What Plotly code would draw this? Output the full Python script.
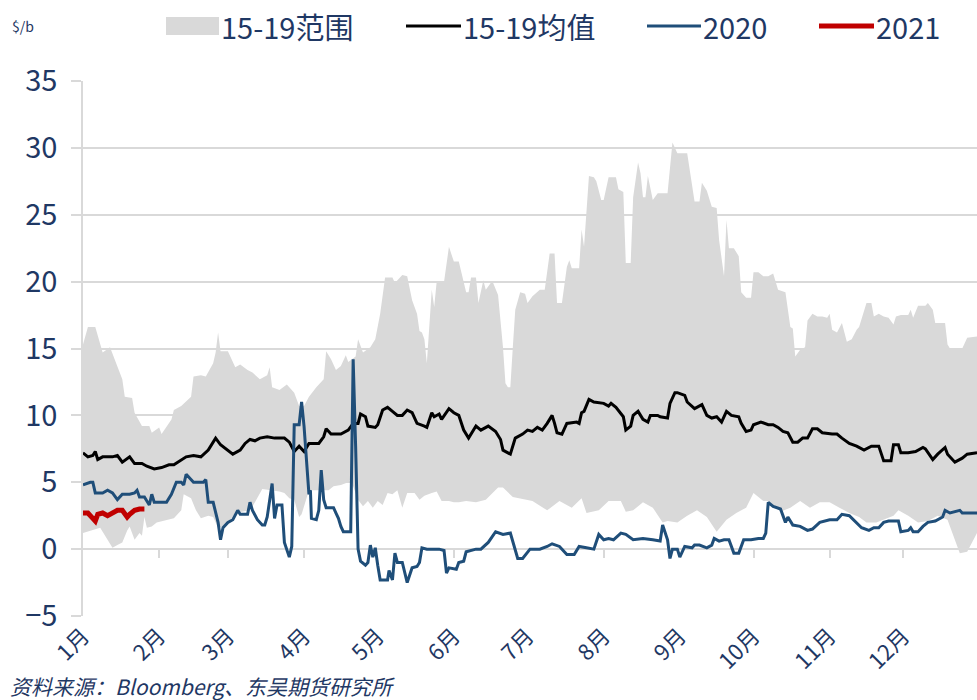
import plotly.graph_objects as go

# day-of-year positions and values ($/b)
month_days = [0, 31, 59, 90, 120, 151, 181, 212, 243, 273, 304, 334]
month_labels = ["1月", "2月", "3月", "4月", "5月", "6月", "7月", "8月", "9月", "10月", "11月", "12月"]
tick_mark_days = [31, 59, 90, 151, 212, 273, 304, 334]

series_names = ["15-19范围", "15-19均值", "2020", "2021"]

hi_day = [0, 2, 5, 7, 8, 11, 14, 16, 17, 20, 21, 24, 27, 28, 31, 32, 36, 37, 40, 44, 45, 48, 50, 53, 54, 55, 56, 59,
          62, 64, 67, 69, 72, 75, 76, 77, 80, 83, 86, 88, 90, 92, 95, 98, 99, 101, 103, 105, 107, 108, 111, 112, 114,
          117, 119, 121, 123, 126, 127, 130, 132, 134, 136, 137, 138, 139, 140, 141, 142, 143, 144, 147, 149, 151,
          153, 156, 157, 158, 160, 161, 163, 164, 166, 167, 169, 171, 172, 173, 174, 175, 176, 178, 180, 181, 183,
          186, 188, 190, 192, 193, 195, 197, 198, 199, 202, 203, 204, 206, 208, 209, 211, 212, 214, 217, 218, 220,
          221, 223, 224, 226, 227, 228, 229, 230, 232, 234, 238, 240, 242, 246, 249, 251, 252, 254, 256, 258, 259,
          261, 262, 263, 265, 267, 268, 270, 272, 273, 275, 277, 279, 281, 283, 286, 288, 289, 290, 292, 294, 295,
          297, 299, 301, 303, 304, 305, 307, 309, 311, 313, 315, 316, 319, 321, 322, 324, 326, 328, 330, 331, 333,
          336, 337, 338, 340, 343, 344, 346, 347, 351, 352, 353, 358, 360, 364]
hi_val = [15.3, 16.6, 16.6, 15.4, 14.7, 15.1, 13.7, 12.7, 11.4, 11.3, 10.2, 9.2, 9.2, 8.7, 9.1, 8.6, 9.7, 10.4, 10.7,
          11.4, 12.9, 13.0, 12.9, 13.9, 14.7, 16.2, 14.8, 14.8, 13.6, 13.8, 13.4, 13.2, 12.7, 13.0, 13.6, 12.1, 11.9,
          12.3, 11.7, 10.7, 10.7, 11.4, 12.1, 12.7, 14.8, 14.2, 13.4, 13.7, 14.5, 14.0, 14.4, 15.7, 14.7, 15.1, 15.7,
          17.6, 20.3, 20.3, 19.9, 20.5, 20.4, 18.6, 17.6, 16.3, 16.2, 15.7, 13.9, 16.6, 19.4, 18.1, 20.0, 20.0, 22.6,
          21.5, 21.5, 19.2, 19.2, 20.3, 20.3, 18.4, 20.1, 19.4, 19.9, 19.9, 19.0, 15.1, 12.4, 12.1, 12.1, 15.1, 17.9,
          19.2, 19.1, 18.4, 18.9, 19.4, 19.4, 22.1, 22.1, 18.4, 18.4, 21.1, 21.6, 21.0, 21.0, 23.9, 22.6, 27.9, 27.8,
          27.5, 26.1, 26.1, 27.8, 27.8, 26.9, 26.7, 21.4, 21.4, 26.3, 28.9, 28.1, 26.3, 26.3, 27.9, 26.1, 26.6, 26.6,
          30.4, 29.6, 29.6, 26.0, 26.0, 27.4, 26.8, 25.6, 25.5, 23.1, 20.4, 24.6, 22.5, 22.5, 21.9, 19.2, 18.8, 18.8,
          20.7, 20.7, 20.4, 20.4, 20.6, 19.4, 19.2, 16.6, 16.5, 14.4, 14.9, 15.1, 17.1, 17.6, 17.4, 17.4, 17.3, 17.6,
          16.4, 16.2, 16.9, 15.5, 15.7, 16.4, 16.6, 18.4, 18.4, 17.4, 17.6, 17.4, 17.3, 16.8, 17.4, 17.5, 17.5, 17.9,
          17.3, 18.2, 18.2, 18.4, 17.9, 16.9, 16.9, 15.3, 15.0, 15.0, 15.8, 15.9]

lo_day = [0, 4, 7, 10, 12, 14, 16, 18, 19, 21, 23, 24, 25, 26, 28, 30, 34, 37, 40, 41, 44, 46, 48, 51, 53, 55, 57, 60,
          62, 65, 68, 70, 73, 80, 82, 84, 86, 88, 89, 92, 96, 100, 102, 105, 108, 109, 112, 114, 116, 118, 120, 122,
          124, 126, 128, 130, 132, 135, 137, 139, 142, 144, 146, 149, 151, 153, 156, 160, 164, 169, 171, 175, 183,
          189, 194, 199, 203, 205, 210, 214, 219, 221, 224, 228, 232, 236, 238, 242, 246, 250, 254, 258, 262, 266,
          270, 273, 277, 279, 284, 288, 292, 296, 300, 304, 308, 312, 316, 319, 323, 327, 330, 332, 336, 340, 344,
          348, 352, 353, 355, 357, 360, 362, 364]
lo_val = [1.2, 1.4, 1.6, 0.7, 0.1, 0.3, 0.5, 1.4, 1.7, 0.7, 1.2, 1.0, 2.4, 1.6, 1.7, 2.0, 2.2, 2.3, 2.9, 4.1, 3.8, 2.9,
          2.3, 2.5, 2.4, 1.6, 1.7, 2.2, 2.7, 2.8, 2.9, 3.5, 4.5, 4.3, 4.2, 3.8, 3.7, 2.4, 2.6, 4.4, 4.4, 4.4, 4.7, 4.8,
          5.0, 5.2, 3.7, 3.2, 3.6, 3.1, 3.6, 3.3, 4.2, 4.1, 4.4, 3.1, 4.2, 4.2, 3.7, 4.0, 4.2, 4.3, 3.6, 3.6, 3.5, 3.5,
          3.6, 3.5, 3.7, 4.6, 4.6, 3.9, 3.6, 2.9, 3.6, 3.1, 3.8, 2.7, 2.9, 3.6, 3.6, 2.8, 2.9, 3.5, 3.1, 2.0, 2.1, 2.0,
          2.5, 2.9, 2.4, 1.3, 2.2, 2.7, 3.1, 4.2, 3.6, 3.6, 2.8, 3.1, 3.6, 3.1, 3.5, 3.5, 3.1, 2.7, 2.4, 2.0, 2.0, 2.3,
          2.5, 2.9, 2.5, 2.0, 2.1, 2.5, 2.2, 1.7, 0.7, -0.3, -0.2, 0.5, 1.2]

avg_day = [0, 2, 4, 5, 6, 8, 12, 14, 16, 19, 21, 24, 26, 29, 32, 35, 37, 40, 42, 45, 48, 51, 53, 54, 56, 59, 61, 64,
           66, 68, 70, 72, 75, 78, 82, 84, 86, 88, 90, 92, 96, 98, 99, 101, 105, 108, 110, 112, 113, 115, 116, 119,
           120, 122, 124, 126, 128, 130, 132, 134, 136, 139, 140, 142, 143, 145, 146, 149, 151, 153, 155, 157, 159,
           160, 162, 165, 168, 170, 171, 174, 176, 179, 181, 183, 185, 187, 189, 191, 192, 193, 195, 197, 201, 202,
           203, 204, 206, 208, 212, 214, 215, 217, 220, 221, 223, 224, 226, 228, 230, 231, 234, 235, 238, 239, 241,
           242, 245, 246, 249, 251, 252, 254, 256, 258, 260, 262, 264, 267, 268, 270, 272, 273, 276, 279, 281, 283,
           285, 287, 289, 291, 293, 295, 297, 299, 301, 305, 307, 309, 312, 315, 318, 321, 324, 326, 329, 330, 332,
           333, 336, 339, 342, 343, 346, 348, 351, 352, 355, 358, 360, 364]
avg_val = [7.2, 6.9, 7.0, 7.3, 6.7, 6.9, 6.9, 7.0, 6.5, 6.9, 6.4, 6.4, 6.2, 6.0, 6.1, 6.3, 6.3, 6.7, 6.9, 7.0, 6.9,
           7.4, 8.0, 8.3, 7.8, 7.4, 7.1, 7.4, 7.9, 8.2, 8.1, 8.3, 8.4, 8.3, 8.3, 8.0, 7.3, 7.7, 7.3, 7.9, 7.9, 8.4,
           9.0, 8.6, 8.6, 8.9, 9.4, 9.4, 10.1, 9.9, 9.2, 9.1, 9.3, 10.4, 10.6, 10.3, 10.0, 10.0, 10.4, 10.2, 9.4, 9.2,
           9.1, 10.2, 9.9, 10.1, 9.7, 10.5, 10.2, 10.0, 8.9, 8.3, 8.9, 9.2, 8.9, 9.2, 8.8, 8.2, 7.4, 7.1, 8.3, 8.6,
           8.9, 8.8, 9.1, 8.9, 9.4, 10.0, 9.4, 8.7, 8.6, 9.4, 9.5, 9.4, 10.2, 10.3, 11.2, 11.0, 10.9, 10.7, 10.9,
           10.6, 9.9, 8.9, 9.2, 10.0, 10.3, 9.7, 9.5, 10.0, 10.0, 9.9, 9.8, 10.9, 11.7, 11.7, 11.5, 11.0, 10.5, 10.7,
           10.8, 10.0, 9.8, 9.9, 9.5, 10.3, 10.0, 9.9, 9.4, 8.8, 8.9, 9.3, 9.5, 9.3, 9.3, 9.1, 8.8, 8.7, 8.0, 8.0,
           8.3, 8.3, 9.0, 9.0, 8.7, 8.6, 8.6, 8.3, 7.9, 7.7, 7.4, 7.7, 7.7, 6.6, 6.6, 7.8, 7.8, 7.2, 7.2, 7.3, 7.6,
           7.5, 6.7, 7.1, 7.6, 7.1, 6.5, 6.8, 7.1, 7.2]

y2020_day = [0, 3, 4, 5, 8, 10, 12, 14, 16, 19, 21, 22, 23, 25, 27, 28, 29, 34, 36, 38, 40, 41, 42, 45, 49, 50, 51, 53,
             55, 56, 57, 59, 61, 63, 64, 67, 68, 69, 71, 73, 74, 75, 77, 78, 79, 81, 82, 84, 85, 86, 88, 89, 90, 91,
             92, 92.6, 93, 95, 96, 97, 98, 99, 102, 103, 104, 105, 106, 109, 110, 111, 112, 113, 115, 116, 117, 118,
             119, 120, 121, 124, 124.6, 126, 127, 128, 130, 132, 134, 136, 137, 138, 140, 145, 147, 148, 149, 152,
             153, 155, 156, 160, 162, 165, 168, 171, 174, 177, 179, 182, 186, 189, 191, 194, 197, 200, 202, 205, 208,
             210, 212, 214, 216, 219, 221, 224, 228, 232, 235, 236, 238, 239, 240, 242, 243, 245, 248, 249, 251, 254,
             256, 257, 259, 261, 263, 265, 267, 269, 272, 275, 277, 278, 279, 281, 284, 286, 287, 289, 292, 295, 297,
             300, 304, 307, 309, 312, 315, 317, 320, 322, 324, 326, 328, 332, 333, 336, 337, 338, 340, 342, 344, 347,
             350, 351, 353, 357, 358, 364]
y2020_val = [4.8, 5.0, 5.0, 4.2, 4.2, 4.4, 4.2, 3.7, 4.1, 4.1, 4.2, 4.4, 3.9, 3.9, 3.3, 4.1, 3.5, 3.5, 4.1, 5.0, 5.0,
             4.8, 5.6, 5.0, 5.0, 5.2, 3.5, 3.5, 2.0, 0.7, 1.6, 2.0, 2.2, 2.9, 2.6, 2.6, 3.5, 2.9, 2.2, 1.8, 1.8, 2.4,
             4.9, 2.3, 3.3, 3.3, 0.5, -0.6, 0.2, 9.3, 9.3, 11.0, 9.2, 6.4, 4.1, 4.4, 2.3, 2.2, 2.9, 5.9, 3.7, 3.1,
             3.1, 2.7, 2.3, 1.7, 1.3, 1.3, 14.2, 7.7, 0.0, -0.9, -1.2, -1.0, 0.3, -0.6, 0.1, -1.2, -2.3, -2.3, -1.6,
             -2.3, -0.3, -1.0, -1.0, -2.5, -1.4, -1.3, -1.0, 0.1, 0.0, 0.0, -0.1, -1.8, -1.4, -1.5, -1.0, -0.9, -0.2,
             0.0, 0.0, 0.5, 1.3, 1.1, 1.2, -0.7, -0.7, 0.0, 0.0, 0.2, 0.4, 0.2, -0.4, -0.4, 0.2, 0.1, 0.0, 1.1, 0.7,
             0.8, 0.7, 1.2, 1.1, 0.7, 0.8, 0.7, 0.6, 1.8, 0.7, -0.7, 0.0, 0.0, -0.6, 0.2, 0.1, 0.3, 0.3, 0.1, 0.3,
             0.8, 0.6, 0.7, 0.7, -0.3, -0.3, 0.7, 0.7, 0.8, 0.8, 1.2, 3.5, 3.2, 3.0, 2.0, 2.4, 1.8, 1.7, 1.4, 1.5,
             2.0, 2.2, 2.2, 2.6, 2.5, 2.0, 1.6, 1.4, 1.6, 1.6, 2.0, 2.1, 2.1, 1.3, 1.4, 1.6, 1.3, 1.3, 1.7, 2.0, 2.1,
             2.4, 2.9, 2.7, 2.9, 2.7, 2.7]

y2021_day = [0, 2, 4, 5, 6, 8, 10, 12, 14, 16, 18, 19, 21, 23, 25]
y2021_val = [2.7, 2.7, 2.3, 2.1, 2.6, 2.7, 2.5, 2.7, 2.9, 2.9, 2.4, 2.6, 2.9, 3.0, 3.0]

navy = "#1f3864"
grid = "#d9d9d9"
band_color = "#d9d9d9"
colors = [band_color, "#000000", "#1f4e79", "#c00000"]
cjk = "Noto Sans CJK SC"

fig = go.Figure()
fig.add_trace(go.Scatter(x=lo_day, y=lo_val, mode="lines", line=dict(width=0), showlegend=False,
                         hoverinfo="skip"))
fig.add_trace(go.Scatter(x=hi_day, y=hi_val, mode="lines", line=dict(width=0), fill="tonexty",
                         fillcolor=band_color, name=series_names[0], showlegend=False))
fig.add_trace(go.Scatter(x=avg_day, y=avg_val, mode="lines", line=dict(color=colors[1], width=3),
                         name=series_names[1], showlegend=False))
fig.add_trace(go.Scatter(x=y2020_day, y=y2020_val, mode="lines", line=dict(color=colors[2], width=3),
                         name=series_names[2], showlegend=False))
fig.add_trace(go.Scatter(x=y2021_day, y=y2021_val, mode="lines", line=dict(color=colors[3], width=5),
                         name=series_names[3], showlegend=False, xaxis="x2"))

W, H = 977, 700
# plot area in pixels: left 83, right 977, top 81, bottom 616
L, R, T, B = 83, 977, 81, 616


def px(x):
    return (x - L) / (R - L)


def py(y):
    return (B - y) / (B - T)


# hand-made legend (key swatch + label)
legend_keys = [(166, 219), (406, 461), (647, 701), (819, 874)]
for i, (x0, x1) in enumerate(legend_keys):
    if i == 0:
        fig.add_shape(type="rect", xref="paper", yref="paper", x0=px(x0), x1=px(x1), y0=py(35), y1=py(17),
                      fillcolor=band_color, line=dict(width=0))
    else:
        fig.add_shape(type="line", xref="paper", yref="paper", x0=px(x0), x1=px(x1), y0=py(26), y1=py(26),
                      line=dict(color=colors[i], width=5 if i == 3 else 3))
    fig.add_annotation(text=series_names[i], xref="paper", yref="paper", x=px(x1 + 1), y=py(26),
                       xanchor="left", yanchor="middle", showarrow=False, borderpad=0,
                       font=dict(family=cjk, size=29, color=navy))

fig.add_annotation(text="$/b", xref="paper", yref="paper", x=px(10), y=py(26), xanchor="left",
                   yanchor="middle", showarrow=False, font=dict(family=cjk, size=14, color=navy))
fig.add_annotation(text="<i>资料来源：Bloomberg、东吴期货研究所</i>", xref="paper", yref="paper", x=px(9),
                   y=py(686), xanchor="left", yanchor="middle", showarrow=False, borderpad=0,
                   font=dict(family=cjk, size=21, color=navy))

fig.update_layout(
    width=W, height=H,
    margin=dict(l=L, r=W - R, t=T, b=H - B, autoexpand=False),
    paper_bgcolor="white", plot_bgcolor="white",
    font=dict(family=cjk, color=navy),
    xaxis=dict(range=[0, 364], tickvals=month_days, ticktext=month_labels, tickangle=-45,
               showgrid=False, showline=False, zeroline=False, ticks="", automargin=False,
               ticklabelstandoff=2, tickfont=dict(family=cjk, size=22, color=navy)),
    xaxis2=dict(range=[0, 364], overlaying="x", anchor="free", position=0.125, side="bottom",
                tickvals=tick_mark_days, showticklabels=False, ticks="outside", ticklen=8,
                tickcolor=grid, tickwidth=1.5, showgrid=False, showline=False, zeroline=False,
                automargin=False),
    yaxis=dict(range=[-5, 35], dtick=5, showgrid=True, gridcolor=grid, gridwidth=1.5,
               showline=True, linecolor=grid, linewidth=1.5, zeroline=False, automargin=False,
               ticks="outside", ticklen=10, tickcolor=grid, tickwidth=1.5, ticklabelstandoff=8,
               tickfont=dict(family=cjk, size=29, color=navy)),
    hovermode=False,
)

# drop the page's default body margin so the figure fills the window exactly
fig.write_html("out.html", config={"displayModeBar": False},
               post_script="document.body.style.margin = '0px';")
